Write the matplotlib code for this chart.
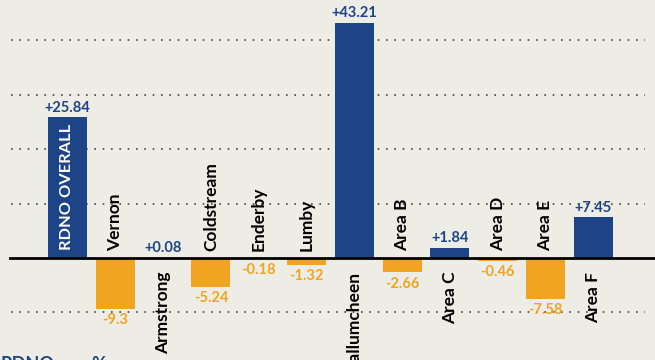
import matplotlib
matplotlib.use("Agg")
import matplotlib.pyplot as plt

categories = ["RDNO OVERALL", "Vernon", "Armstrong", "Coldstream", "Enderby", "Lumby",
              "Spallumcheen", "Area B", "Area C", "Area D", "Area E", "Area F"]
values = [25.84, -9.3, 0.08, -5.24, -0.18, -1.32, 43.21, -2.66, 1.84, -0.46, -7.58, 7.45]
value_labels = ["+25.84", "-9.3", "+0.08", "-5.24", "-0.18", "-1.32", "+43.21",
                "-2.66", "+1.84", "-0.46", "-7.58", "+7.45"]
grid_values = [40, 30, 20, 10, -10]

BG = "#eeede5"
BLUE = "#1d4487"
ORANGE = "#f1a322"
FONT = ["Lato", "DejaVu Sans"]

fig = plt.figure(figsize=(6.55, 3.6), dpi=100, facecolor=BG)
ax = fig.add_axes([0, 0, 1, 1])
ax.set_facecolor(BG)
ax.set_xlim(-1.412, 12.29)
ax.set_ylim(-18.75, 47.43)
ax.axis("off")

for g in grid_values:
    ax.axhline(g, xmin=11 / 655, xmax=645 / 655, color="#444444",
               linestyle=(0, (1, 4)), linewidth=1.2, zorder=1)

x = list(range(len(categories)))
colors = [BLUE if v >= 0 else ORANGE for v in values]
ax.bar(x, values, width=0.815, color=colors, zorder=2)
ax.axhline(0, xmin=10 / 655, xmax=1, color="black", linewidth=2.0, zorder=3)

for i, (cat, v, lab) in enumerate(zip(categories, values, value_labels)):
    if v >= 0:
        ax.annotate(lab, (i, v), xytext=(0, 2), textcoords="offset points",
                    ha="center", va="bottom", color=BLUE, fontsize=10.5,
                    fontweight="bold", family=FONT, zorder=4)
    else:
        ax.annotate(lab, (i, v), xytext=(0, -3), textcoords="offset points",
                    ha="center", va="top", color=ORANGE, fontsize=10.5,
                    fontweight="bold", family=FONT, zorder=4)
    if i == 0:
        ax.annotate(cat, (i, 0), xytext=(0, 6), textcoords="offset points",
                    ha="center", va="bottom", rotation=90, color="white",
                    fontsize=11.8, fontweight="bold", family=FONT, zorder=4)
    elif v < 0:
        ax.annotate(cat, (i, 0), xytext=(0, 5), textcoords="offset points",
                    ha="center", va="bottom", rotation=90, color="black",
                    fontsize=12.5, fontweight="bold", family=FONT, zorder=4)
    else:
        ax.annotate(cat, (i, 0), xytext=(0, -10), textcoords="offset points",
                    ha="center", va="top", rotation=90, color="black",
                    fontsize=12.5, fontweight="bold", family=FONT, zorder=4)

fig.text(0.0, 0.012, "RDNO", color=BLUE, fontsize=13, fontweight="bold",
         family=FONT, ha="left", va="top")
fig.text(0.14, 0.012, "%", color=BLUE, fontsize=13, fontweight="bold",
         family=FONT, ha="left", va="top")

fig.savefig("out.png", dpi=100, facecolor=BG)
